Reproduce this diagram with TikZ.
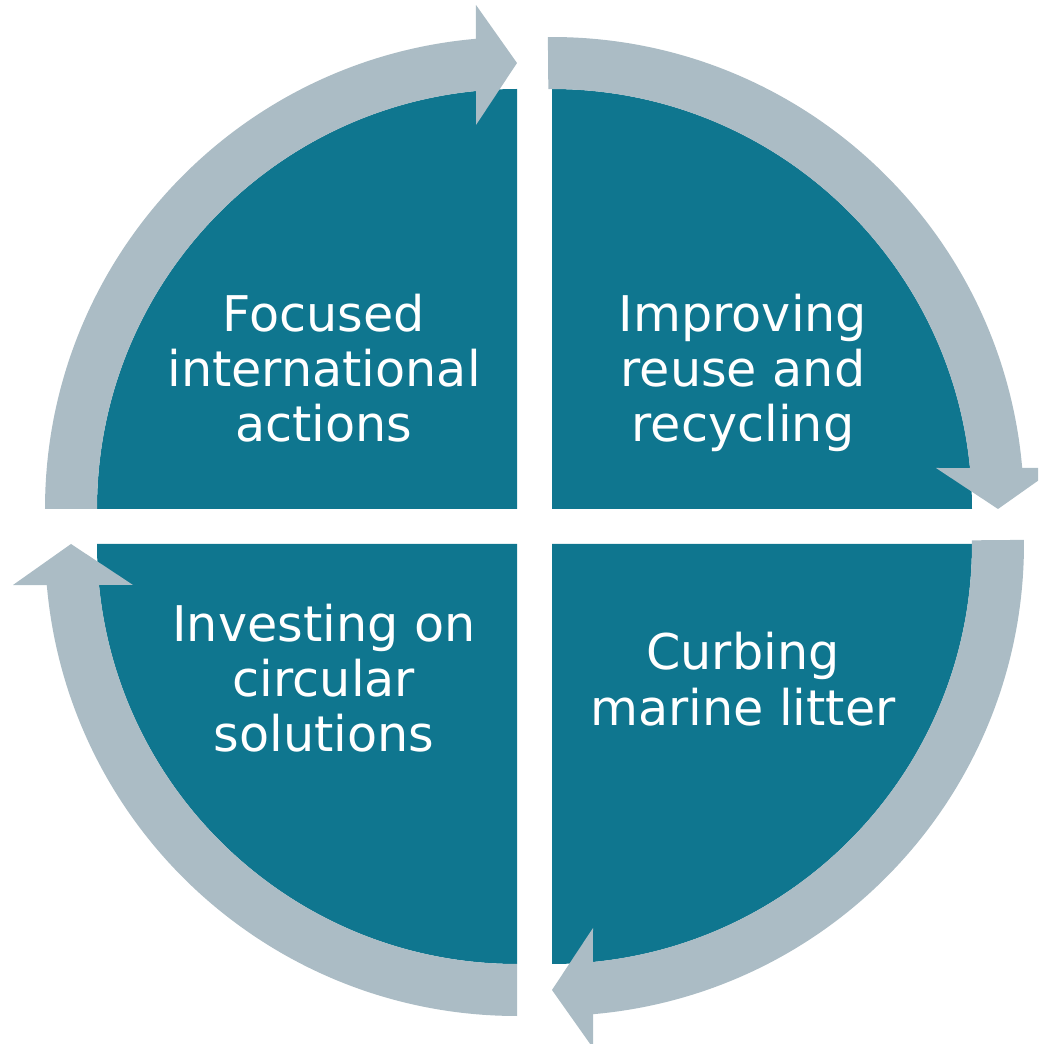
\documentclass[tikz,border=0pt]{standalone}
\usepackage{fontspec}
\setmainfont{DejaVu Sans}
\usetikzlibrary{positioning}

\definecolor{sectorteal}{RGB}{15,118,143}
\definecolor{arrowgray}{RGB}{171,188,197}

\begin{document}
\begin{tikzpicture}[x=1cm,y=1cm,
    sector/.style={fill=sectorteal},
    cyclearrow/.style={fill=arrowgray},
    sectortext/.style={text=white,align=center,anchor=base,
        font=\fontsize{14pt}{15.7pt}\selectfont}]

    \clip (0,0) rectangle (10.38,10.44);

    % Quarter sectors
    \foreach \cx/\cy/\rot in {5.17/5.35/0, 5.52/5.35/-90, 5.52/5.00/-180, 5.17/5.00/-270}{
        \begin{scope}[shift={(\cx,\cy)},rotate=\rot]
            \fill[sector] (0,0) -- (90:4.2) arc[start angle=90,end angle=180,radius=4.2] -- cycle;
        \end{scope}
    }

    % Arrows round the sectors
    \foreach \cx/\cy/\rot/\tail in {5.17/5.35/0/180, 5.52/5.35/-90/180.5, 5.52/5.00/-180/180.5, 5.17/5.00/-270/180}{
        \begin{scope}[shift={(\cx,\cy)},rotate=\rot]
            \fill[cyclearrow] (\tail:4.72) arc[start angle=\tail,end angle=95,radius=4.72]
                -- (-0.41,5.04) -- (0,4.46) -- (-0.41,3.84)
                -- (95.6:4.2) arc[start angle=95.6,end angle=\tail,radius=4.2] -- cycle;
        \end{scope}
    }

    % base anchor sits on the last line
    \node[sectortext] (focus) at (3.24,6.02) {Focused\\international\\actions};
    \node[sectortext] (reuse) at (7.43,6.02) {Improving\\reuse and\\recycling};
    \node[sectortext] (litter) at (7.43,3.19) {Curbing\\marine litter};
    \node[sectortext] (invest) at (3.24,2.92) {Investing on\\circular\\solutions};
\end{tikzpicture}
\end{document}
